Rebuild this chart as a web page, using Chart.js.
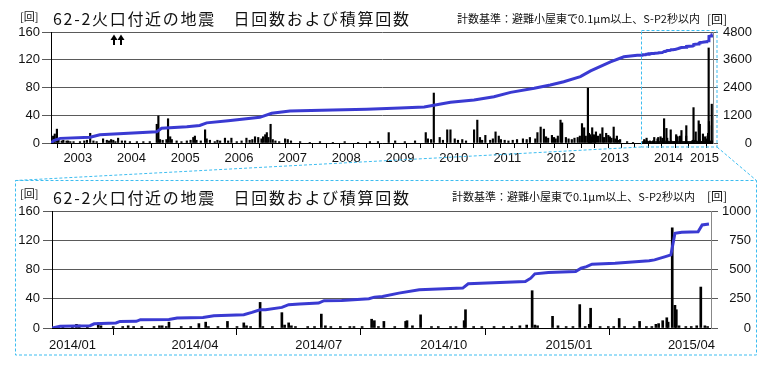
<!DOCTYPE html>
<html><head><meta charset="utf-8">
<script src="https://cdn.jsdelivr.net/npm/chart.js@4.4.1/dist/chart.umd.min.js"></script>
<style>
html,body{margin:0;padding:0;background:#fff;width:768px;height:365px;overflow:hidden;}
#wrap{position:relative;width:768px;height:365px;}
canvas{position:absolute;left:0;}
.t{position:absolute;white-space:nowrap;font-family:"Noto Sans CJK JP",sans-serif;color:#111;line-height:1;}
.title{font-size:16px;letter-spacing:1.7px;}
.sub{font-size:11px;}
.u1{font-size:11px;}
.u2{font-size:12px;}
svg{position:absolute;left:0;top:0;pointer-events:none;}
</style></head><body>
<div id="wrap">
<canvas id="c1" width="768" height="176" style="top:0px"></canvas>
<canvas id="c2" width="768" height="175" style="top:180px"></canvas>

<div class="t u1" style="left:20px;top:10.5px;">[回]</div>
<div class="t title" style="left:53px;top:10px;">62-2火口付近の地震　日回数および積算回数</div>
<div class="t sub" style="left:457px;top:12.5px;">計数基準：避難小屋東で0.1μm以上、S-P2秒以内</div>
<div class="t u2" style="left:707px;top:12.5px;">[回]</div>

<div class="t u1" style="left:20px;top:188px;">[回]</div>
<div class="t title" style="left:53px;top:189px;">62-2火口付近の地震　日回数および積算回数</div>
<div class="t sub" style="left:452px;top:191px;">計数基準：避難小屋東で0.1μm以上、S-P2秒以内</div>
<div class="t u2" style="left:707px;top:190px;">[回]</div>

<svg width="768" height="365">
  <g stroke="#3dbdf0" stroke-width="1" fill="none" stroke-dasharray="3,2">
    <rect x="641.5" y="30.5" width="75.5" height="116.5"/>
    <line x1="641.5" y1="147" x2="15.5" y2="180.5"/>
    <line x1="717" y1="147" x2="756.5" y2="180.5"/>
    <rect x="15.5" y="180.5" width="741" height="174.5"/>
  </g>
</svg>
</div>
<script>
// ---------- DATA ----------
// Top panel (2003 - 2015): daily counts before 2014 (decimal year, count)
const topBarYears = [
  2003.04,2003.07,2003.11,2003.14,2003.20,2003.23,2003.29,2003.42,2003.54,2003.73,2003.79,2003.85,2003.97,
  2004.04,2004.16,2004.25,2004.32,2004.47,2004.60,2004.72,2004.84,2004.97,
  2005.00,2005.03,2005.15,2005.18,2005.22,2005.25,2005.43,2005.53,2005.65,2005.68,2005.71,2005.87,2005.90,2005.96,
  2006.05,2006.15,2006.24,2006.36,2006.46,2006.64,2006.80,2006.86,2006.92,2006.99,
  2007.02,2007.05,2007.09,2007.13,2007.36,2007.41,2007.47,2007.64,2007.82,
  2008.01,2008.25,2008.47,2008.72,2008.94,
  2009.09,2009.29,2009.41,2009.59,2009.78,2009.98,
  2010.02,2010.13,2010.24,2010.38,2010.44,2010.58,2010.73,2010.88,2010.94,2010.99,
  2011.09,2011.18,2011.28,2011.34,2011.45,2011.68,2011.79,2011.92,
  2012.06,2012.12,2012.18,2012.26,2012.33,2012.40,2012.49,2012.52,2012.59,2012.70,2012.81,2012.89,2012.93,2012.96,
  2013.00,2013.04,2013.08,2013.11,2013.15,2013.19,2013.27,2013.34,2013.41,2013.48,2013.54,2013.60,2013.73,2013.84
];
const topBarCounts = [
  10,13,20,6,3,4,3,2,2,14,3,2,6,
  4,4,7,3,2,2,2,2,27,
  39,5,5,35,9,5,2,3,8,10,4,19,6,4,
  2,3,7,7,2,7,9,8,6,12,
  15,8,27,5,6,5,3,2,1,
  2,1,2,1,2,
  2,15,3,2,3,15,
  6,72,8,19,19,4,3,19,33,8,
  11,4,16,10,4,5,6,8,
  15,23,20,7,11,6,33,29,8,5,8,28,22,10,
  79,12,22,12,16,10,22,14,9,23,10,5,2,1
];
// smaller daily counts along the baseline (decimal year, count)
const topMinorYears = [2003.32,2003.36,2003.62,2003.67,2004.08,2004.12,2004.20,2004.38,2005.08,2005.34,2005.60,2005.79,
  2006.10,2006.30,2006.55,2006.70,2006.75,2006.95,2007.18,2007.25,2010.08,2010.30,2010.52,2010.66,
  2011.03,2011.23,2011.38,2011.52,2011.60,2011.86,2012.02,2012.22,2012.37,2012.44,2012.64,2012.75,2012.85,
  2013.02,2013.06,2013.13,2013.23,2013.30,2013.38,2013.44,2013.51,2013.57];
const topMinorCounts = [3,2,3,4,3,5,2,3,4,3,4,3,
  4,3,3,4,5,9,3,2,5,4,6,5,
  4,6,5,3,4,5,6,9,8,10,6,7,10,
  14,9,11,13,8,11,7,6,4];
// Top panel cumulative before 2014 (decimal year, cumulative count)
const topCumYears = [2003.00,2003.05,2003.17,2003.73,2003.91,2004.97,2005.06,2005.53,2005.77,2005.90,2006.30,2006.89,2007.11,2007.45,2007.64,2008.25,2008.88,2009.50,2009.95,2010.13,2010.44,2010.88,2011.25,2011.56,2012.00,2012.30,2012.55,2012.86,2013.05,2013.42,2013.67,2013.92];
const topCumValues = [0,100,200,250,360,490,635,705,760,870,960,1110,1285,1380,1395,1425,1455,1515,1555,1630,1760,1860,2000,2190,2370,2510,2650,2870,3120,3510,3730,3790];
const cumAtStart2014 = 3800;

// Bottom panel (2014/01 - 2015/04): daily counts
const bottomDates = [
  '2014-01-09','2014-01-16','2014-01-19','2014-01-21','2014-01-27',
  '2014-02-04','2014-02-06','2014-02-15','2014-02-22','2014-02-26',
  '2014-03-02','2014-03-08','2014-03-17','2014-03-21','2014-03-23','2014-03-26','2014-03-28',
  '2014-04-06','2014-04-13','2014-04-19','2014-04-24','2014-04-26',
  '2014-05-03','2014-05-10','2014-05-17','2014-05-22','2014-05-24','2014-05-27',
  '2014-06-03','2014-06-05','2014-06-12','2014-06-19','2014-06-21','2014-06-24','2014-06-26','2014-06-29',
  '2014-07-08','2014-07-13','2014-07-18','2014-07-21','2014-07-25',
  '2014-08-01','2014-08-08','2014-08-11','2014-08-17','2014-08-24','2014-08-26','2014-08-29',
  '2014-09-02','2014-09-10','2014-09-18','2014-09-19','2014-09-23','2014-09-29',
  '2014-10-07','2014-10-12','2014-10-21','2014-10-25','2014-10-31',
  '2014-11-01','2014-11-07','2014-11-13','2014-11-22','2014-11-29',
  '2014-12-05','2014-12-11','2014-12-16','2014-12-20','2014-12-22','2014-12-24',
  '2015-01-04','2015-01-08','2015-01-14','2015-01-19','2015-01-24','2015-01-28','2015-01-31',
  '2015-02-01','2015-02-08','2015-02-14','2015-02-18','2015-02-22','2015-02-26',
  '2015-03-05','2015-03-09','2015-03-14','2015-03-18','2015-03-21','2015-03-23','2015-03-26','2015-03-29','2015-03-30',
  '2015-04-02','2015-04-04','2015-04-05','2015-04-07','2015-04-12','2015-04-16','2015-04-20','2015-04-23','2015-04-26','2015-04-28'
];
const bottomCounts = [
  2,2,5,4,2,
  7,3,2,2,3,
  2,2,2,3,3,2,8,
  2,2,6,8,2,
  2,9,2,7,3,2,
  35,2,2,21,4,7,3,2,
  2,2,19,3,2,
  2,2,2,2,12,10,2,
  9,2,9,10,3,18,
  2,2,2,2,10,
  25,2,2,2,2,
  2,3,4,51,4,3,
  16,3,2,2,32,2,5,
  27,2,2,2,13,2,
  2,9,2,2,5,6,10,14,8,
  137,31,25,3,2,2,3,56,3,2
];
// Bottom panel cumulative
const cumDates = ['2014-01-01','2014-01-03','2014-01-07','2014-01-29','2014-02-01','2014-02-17','2014-02-20','2014-03-04','2014-03-07','2014-03-28','2014-04-03','2014-04-22','2014-04-30','2014-05-22','2014-05-28','2014-06-03','2014-06-07','2014-06-19','2014-06-24','2014-07-02','2014-07-16','2014-07-20','2014-08-02','2014-08-22','2014-08-26','2014-09-01','2014-09-13','2014-09-28','2014-10-30','2014-11-03','2014-12-15','2014-12-19','2014-12-22','2015-01-01','2015-01-21','2015-01-25','2015-01-29','2015-02-02','2015-02-19','2015-03-16','2015-03-20','2015-03-28','2015-04-01','2015-04-04','2015-04-09','2015-04-21','2015-04-24','2015-04-29'];
const cumValues = [0,5,14,20,36,43,56,57,71,72,85,90,105,113,133,156,157,176,199,205,213,233,235,250,264,269,298,326,341,378,397,426,463,474,482,511,525,545,554,574,582,610,625,810,818,823,881,889];

// Axis labels
const topYearLabels = ['2003','2004','2005','2006','2007','2008','2009','2010','2011','2012','2013','2014','2015'];
const topYearLabelPos = [2003.5,2004.5,2005.5,2006.5,2007.5,2008.5,2009.5,2010.5,2011.5,2012.5,2013.5,2014.5,2015.17];
const bottomTickLabels = ['2014/01','2014/04','2014/07','2014/10','2015/01','2015/04'];
const bottomTickDates = ['2014-01-01','2014-04-01','2014-07-01','2014-10-01','2015-01-01','2015-04-01'];
const arrowYears = [2004.17, 2004.30];

// ---------- helpers ----------
const DAY = 86400000;
const T0 = Date.UTC(2014,0,1);
function dayIndex(s){const [y,m,d]=s.split('-').map(Number);return (Date.UTC(y,m-1,d)-T0)/DAY;}
function yearFrac(s){const [y,m,d]=s.split('-').map(Number);const a=Date.UTC(y,0,1),b=Date.UTC(y+1,0,1);return y+(Date.UTC(y,m-1,d)-a)/(b-a);}

const LINE = 'rgb(58,58,210)';
const FONT = {family:'"Liberation Sans", Arial, sans-serif', size:13};
const TXT = '#111';
const GRID = '#5a5a5a';
const plain = v => String(v);

const topBars = topBarYears.map((x,i)=>({x, y: topBarCounts[i]}))
  .concat(topMinorYears.map((x,i)=>({x, y: topMinorCounts[i]})))
  .concat(bottomDates.map((s,i)=>({x: yearFrac(s), y: bottomCounts[i]})));
const topCum = topCumYears.map((x,i)=>({x, y: topCumValues[i]}))
  .concat(cumDates.map((s,i)=>({x: yearFrac(s), y: cumAtStart2014 + cumValues[i]})));
const botBars = bottomDates.map((s,i)=>({x: dayIndex(s), y: bottomCounts[i]}));
const botCum = cumDates.map((s,i)=>({x: dayIndex(s), y: cumValues[i]}));

const quarterTicks = [];
for (let v = 2003; v <= 2015.251; v += 0.25) quarterTicks.push(Math.round(v*100)/100);
const isQuarter = v => Math.abs(v*4 - Math.round(v*4)) < 1e-6;

const arrowPlugin = {
  id:'arrows',
  afterDatasetsDraw(chart){
    const ctx = chart.ctx, xs = chart.scales.x;
    ctx.save(); ctx.fillStyle='#000'; ctx.strokeStyle='#000'; ctx.lineWidth=2;
    arrowYears.forEach(v=>{
      const x = Math.round(xs.getPixelForValue(v));
      ctx.beginPath(); ctx.moveTo(x,45); ctx.lineTo(x,38); ctx.stroke();
      ctx.beginPath(); ctx.moveTo(x-3.5,40); ctx.lineTo(x,34.5); ctx.lineTo(x+3.5,40); ctx.closePath(); ctx.fill();
    });
    ctx.restore();
  }
};

Chart.defaults.font.family = FONT.family;

new Chart(document.getElementById('c1'), {
  type:'bar',
  data:{datasets:[
    {type:'line', data:topCum, yAxisID:'y2', borderColor:LINE, borderWidth:3, pointRadius:0, tension:0, fill:false, order:0},
    {type:'bar', data:topBars, yAxisID:'y', backgroundColor:'#000', barThickness:1.5, grouped:false, order:1}
  ]},
  options:{
    responsive:false, animation:false, events:[],
    layout:{padding:{top:32,right:16,left:0,bottom:0}},
    plugins:{legend:{display:false}, tooltip:{enabled:false}},
    scales:{
      x:{type:'linear', offset:false, min:2003, max:2015.33,
        afterBuildTicks:s=>{
          const vals = new Set(quarterTicks.concat(topYearLabelPos));
          s.ticks = Array.from(vals).sort((a,b)=>a-b).map(v=>({value:v}));
        },
        afterFit:s=>{s.height=33;},
        ticks:{autoSkip:false, maxRotation:0, padding:3, color:TXT, font:FONT,
          callback:(v)=>{const i=topYearLabelPos.findIndex(p=>Math.abs(p-v)<1e-6);return i>=0?topYearLabels[i]:'';}},
        grid:{drawOnChartArea:false, drawTicks:true, tickLength:5,
          tickColor:(c)=> (c.tick && isQuarter(c.tick.value)) ? '#000' : 'rgba(0,0,0,0)'},
        border:{display:true, color:'#000'}
      },
      y:{position:'left', min:0, max:160,
        afterFit:s=>{s.width=51;},
        ticks:{stepSize:40, padding:2, color:TXT, font:FONT, callback:plain},
        grid:{color:GRID, tickLength:9, tickColor:GRID},
        border:{display:true, color:'#000'}
      },
      y2:{position:'right', min:0, max:4800,
        afterFit:s=>{s.width=39;},
        ticks:{stepSize:1200, crossAlign:'far', color:TXT, font:FONT, callback:plain},
        grid:{drawOnChartArea:false, tickLength:5, tickColor:GRID},
        border:{display:true, color:'#888'}
      }
    }
  },
  plugins:[arrowPlugin]
});

new Chart(document.getElementById('c2'), {
  type:'bar',
  data:{datasets:[
    {type:'line', data:botCum, yAxisID:'y2', borderColor:LINE, borderWidth:3, pointRadius:0, tension:0, fill:false, order:0},
    {type:'bar', data:botBars, yAxisID:'y', backgroundColor:'#000', barThickness:2, grouped:false, order:1}
  ]},
  options:{
    responsive:false, animation:false, events:[],
    layout:{padding:{top:31,right:17,left:0,bottom:0}},
    plugins:{legend:{display:false}, tooltip:{enabled:false}},
    scales:{
      x:{type:'linear', offset:false, min:0, max:484.5,
        afterBuildTicks:s=>{s.ticks = bottomTickDates.map(d=>({value:dayIndex(d)}));},
        afterFit:s=>{s.height=27;},
        ticks:{autoSkip:false, maxRotation:0, padding:3, align:'start', labelOffset:-3, color:TXT, font:FONT,
          callback:(v)=>{const i=bottomTickDates.findIndex(d=>dayIndex(d)===v);return i>=0?bottomTickLabels[i]:'';}},
        grid:{drawOnChartArea:false, drawTicks:true, tickLength:7, tickColor:'#000'},
        border:{display:true, color:'#000'}
      },
      y:{position:'left', min:0, max:160,
        afterFit:s=>{s.width=52;},
        ticks:{stepSize:40, padding:3, color:TXT, font:FONT, callback:plain},
        grid:{color:GRID, tickLength:9, tickColor:GRID},
        border:{display:true, color:'#000'}
      },
      y2:{position:'right', min:0, max:1000,
        afterFit:s=>{s.width=40;},
        ticks:{stepSize:250, crossAlign:'far', color:TXT, font:FONT, callback:plain},
        grid:{drawOnChartArea:false, tickLength:7, tickColor:GRID},
        border:{display:true, color:'#888'}
      }
    }
  }
});
</script>
</body></html>
